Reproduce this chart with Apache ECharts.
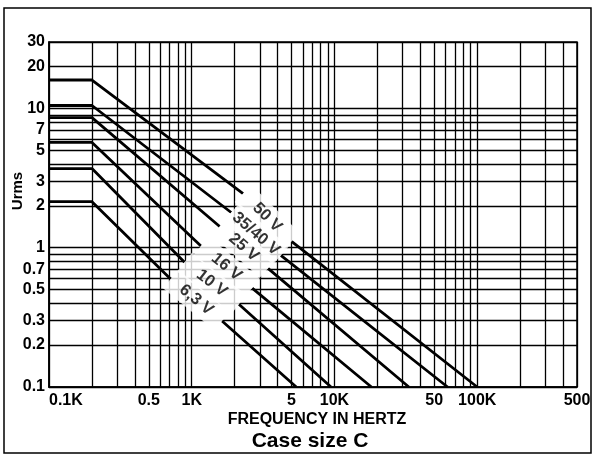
<!DOCTYPE html>
<html><head><meta charset="utf-8">
<script src="https://cdn.jsdelivr.net/npm/echarts@6/dist/echarts.min.js"></script>
<style>html,body{margin:0;padding:0;background:#fff;} #c{width:594px;height:455px;}</style>
</head><body><div id="c"></div>
<script>
// ---- data ----
const seriesNames   = ['50 V', '35/40 V', '25 V', '16 V', '10 V', '6,3 V'];
const startFreq     = [100, 100, 100, 100, 100, 100];
const kneeFreq      = [200, 200, 200, 200, 200, 200];
const flatUrms      = [16, 10.5, 8.6, 5.7, 3.7, 2.14];
const gapStartFreq  = [2290, 1890, 1570, 1160, 890, 711];
const gapStartUrms  = [2.45, 1.79, 1.42, 1.03, 0.787, 0.596];
const gapEndFreq    = [5000, 4210, 3420, 2650, 2140, 1630];
const gapEndUrms    = [1.11, 0.88, 0.71, 0.513, 0.393, 0.298];
const endFreq       = [100000, 62000, 33200, 18150, 9460, 5400];
const endUrms       = [0.1, 0.1, 0.1, 0.1, 0.1, 0.1];

const xLabelVals = [100, 500, 1000, 5000, 10000, 50000, 100000, 500000];
const xLabelText = ['0.1K', '0.5', '1K', '5', '10K', '50', '100K', '500'];
const xGridVals  = [100, 200, 300, 400, 500, 600, 700, 800, 900,
                    1000, 2000, 3000, 4000, 5000, 6000, 7000, 8000, 9000,
                    10000, 20000, 30000, 40000, 50000, 60000, 70000, 80000, 90000,
                    100000, 200000, 300000, 400000, 500000];
const yLabelVals = [0.1, 0.2, 0.3, 0.5, 0.7, 1, 2, 3, 5, 7, 10, 20, 30];
const yLabelText = ['0.1', '0.2', '0.3', '0.5', '0.7', '1', '2', '3', '5', '7', '10', '20', '30'];
const yGridVals  = [0.1, 0.2, 0.3, 0.4, 0.5, 0.6, 0.7, 0.8, 0.9,
                    1, 2, 3, 4, 5, 6, 7, 8, 9, 10, 20, 30];

const xTitle = 'FREQUENCY IN HERTZ';
const yTitle = 'Urms';
const caption = 'Case size C';

// ---- chart ----
const FONT = '"Liberation Sans", Arial, Helvetica, sans-serif';
const chart = echarts.init(document.getElementById('c'), null, {renderer: 'canvas'});

function lookup(vals, texts) {
  return function (v) {
    for (let i = 0; i < vals.length; i++) {
      if (Math.abs(Math.log10(v) - Math.log10(vals[i])) < 1e-6) return texts[i];
    }
    return '';
  };
}

const lineSeries = seriesNames.map((name, i) => ({
  type: 'line', name: name, z: 3, symbol: 'none', silent: true, connectNulls: false,
  lineStyle: {color: '#000', width: 2.8},
  data: [
    [startFreq[i], flatUrms[i]],
    [kneeFreq[i], flatUrms[i]],
    [gapStartFreq[i], gapStartUrms[i]],
    [gapStartFreq[i], '-'],
    [gapEndFreq[i], gapEndUrms[i]],
    [endFreq[i], endUrms[i]]
  ]
}));

function labelData(rot, widths) {
  return seriesNames.map((name, i) => ({
    value: [Math.sqrt(gapStartFreq[i] * gapEndFreq[i]), Math.sqrt(gapStartUrms[i] * gapEndUrms[i])],
    name: name,
    label: {rotate: rot ? rot[i] : 0, width: widths ? widths[i] : 58}
  }));
}

const labelSeries = {
  type: 'scatter', name: 'labels', z: 6, silent: true, symbolSize: 1,
  itemStyle: {color: 'rgba(0,0,0,0)'},
  label: {
    show: true, position: 'inside', formatter: '{b}',
    color: '#000', fontFamily: FONT, fontWeight: 'bold', fontSize: 16.5,
    backgroundColor: '#fff', height: 19, lineHeight: 19,
    padding: [0, 0, 5, 0], align: 'center', verticalAlign: 'middle'
  },
  data: labelData(null, null)
};

const option = {
  animation: false,
  backgroundColor: '#fff',
  grid: {left: 49, right: 17, top: 42, bottom: 68, show: true, borderColor: '#000', borderWidth: 1.5, containLabel: false},
  xAxis: {
    type: 'log', min: 100, max: 500000, logBase: 10,
    axisLine: {show: true, lineStyle: {color: '#000', width: 1.6}},
    axisTick: {show: false, customValues: xGridVals},
    splitLine: {show: true, lineStyle: {color: '#000', width: 1.3}},
    axisLabel: {
      customValues: xLabelVals, formatter: lookup(xLabelVals, xLabelText),
      color: '#000', fontFamily: FONT, fontWeight: 'bold', fontSize: 16, margin: 6,
      alignMinLabel: 'left', showMinLabel: true, showMaxLabel: true, hideOverlap: false
    }
  },
  yAxis: {
    type: 'log', min: 0.1, max: 30, logBase: 10,
    axisLine: {show: true, lineStyle: {color: '#000', width: 1.6}},
    axisTick: {show: false, customValues: yGridVals},
    splitLine: {show: true, lineStyle: {color: '#000', width: 1.3}},
    axisLabel: {
      customValues: yLabelVals, formatter: lookup(yLabelVals, yLabelText),
      color: '#000', fontFamily: FONT, fontWeight: 'bold', fontSize: 16, margin: 4,
      showMinLabel: true, showMaxLabel: true, hideOverlap: false
    }
  },
  graphic: [
    {type: 'rect', z: 100, shape: {x: 4, y: 8, width: 587, height: 445},
     style: {fill: 'none', stroke: '#000', lineWidth: 1.5}, silent: true},
    {type: 'text', z: 100, x: 17.5, y: 191, rotation: Math.PI / 2,
     style: {text: yTitle, font: 'bold 15px ' + FONT, fill: '#000', textAlign: 'center', textVerticalAlign: 'middle'}},
    {type: 'text', z: 100, x: 317, y: 420,
     style: {text: xTitle, font: 'bold 16px ' + FONT, fill: '#000', textAlign: 'center', textVerticalAlign: 'middle'}},
    {type: 'text', z: 100, x: 310, y: 441.5,
     style: {text: caption, font: 'bold 21px ' + FONT, fill: '#000', textAlign: 'center', textVerticalAlign: 'middle'}}
  ],
  series: lineSeries.concat([labelSeries])
};

chart.setOption(option);

// orient each label along its line and size its white box to the line's gap
const rot = [], widths = [];
for (let i = 0; i < seriesNames.length; i++) {
  const a = chart.convertToPixel({gridIndex: 0}, [gapStartFreq[i], gapStartUrms[i]]);
  const b = chart.convertToPixel({gridIndex: 0}, [gapEndFreq[i], gapEndUrms[i]]);
  rot.push(-Math.atan2(b[1] - a[1], b[0] - a[0]) * 180 / Math.PI);
  widths.push(Math.hypot(b[0] - a[0], b[1] - a[1]));
}
chart.setOption({series: lineSeries.concat([Object.assign({}, labelSeries, {data: labelData(rot, widths)})])});
</script>
</body></html>
